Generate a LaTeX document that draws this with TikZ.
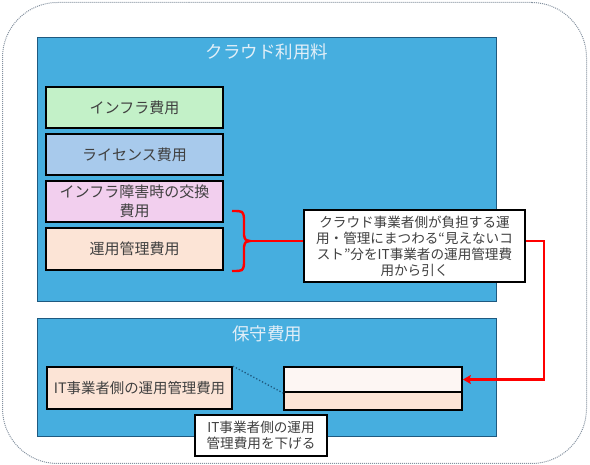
\documentclass[tikz,border=0pt]{standalone}
\usepackage{fontspec}
\setmainfont{Noto Sans CJK JP}
\usetikzlibrary{positioning, arrows.meta}
\definecolor{cloudblue}{HTML}{46AEDF}
\definecolor{areaborder}{HTML}{1F5A80}
\definecolor{titlewhite}{HTML}{E2EFF8}
\definecolor{textgray}{HTML}{404040}
\definecolor{framegray}{HTML}{8592A0}
\definecolor{infragreen}{HTML}{C3F1C8}
\definecolor{licenseblue}{HTML}{A8CAEC}
\definecolor{failpink}{HTML}{F2CFEE}
\definecolor{opspeach}{HTML}{FCE4D6}
\definecolor{paleblush}{HTML}{FDF6F3}
\begin{document}
\begin{tikzpicture}[
        x=1pt, y=-1pt,
        node distance=3.7pt,
        thick,
        >={Stealth[length=8pt, width=9pt, inset=1.5pt]},
        area/.style={draw=areaborder, line width=1.2pt, fill=cloudblue},
        areatitle/.style={text=titlewhite, font=\fontsize{17.5}{20}\selectfont},
        costbox/.style={draw=black, line width=1.8pt, text=textgray, minimum width=177pt,
            minimum height=41.5pt, inner sep=2pt, align=center, font=\fontsize{15}{19}\selectfont},
        notebox/.style={draw=black, line width=1.8pt, fill=white, text=textgray, inner sep=2pt,
            align=center, font=\fontsize{13.6}{16}\selectfont},
        redline/.style={draw=red, line width=2.4pt}
    ]
    \useasboundingbox (0,0) rectangle (590,465);

    % outer frame
    \node[draw=framegray, densely dotted, line width=1pt, rounded corners=55pt,
        minimum width=584pt, minimum height=461pt] (frame) at (294.5,233) {};

    % cloud fee area
    \node[area, minimum width=458.8pt, minimum height=263.8pt] (cloud) at (267,169.5) {};
    \node[areatitle] (cloudtitle) at (267,52) {クラウド利用料};
    \node[costbox, fill=infragreen] (infra) at (134.5,107.4) {インフラ費用};
    \node[costbox, fill=licenseblue, below=of infra] (license) {ライセンス費用};
    \node[costbox, fill=failpink, below=of license] (failure) {インフラ障害時の交換\\費用};
    \node[costbox, fill=opspeach, minimum height=42pt, below=of failure] (ops) {運用管理費用};

    % brace
    \draw[redline] (232,211) .. controls (243,211) .. (244,218) -- (244,235)
        .. controls (245,240) .. (250,241) .. controls (245,242) .. (244,247) -- (244,264)
        .. controls (243,271) .. (232,271);
    \coordinate (bracetip) at (250,241);

    \node[notebox, minimum width=221pt, minimum height=72pt] (note) at (414.5,246)
        {クラウド事業者側が負担する運\\用・管理にまつわる“見えないコ\\スト”分をIT事業者の運用管理費\\用から引く};

    % maintenance area
    \node[area, minimum width=458.8pt, minimum height=117.8pt] (upkeep) at (267,377.5) {};
    \node[areatitle] (upkeeptitle) at (267,334) {保守費用};
    \node[costbox, fill=opspeach, minimum width=185pt, minimum height=42pt,
        font=\fontsize{14.4}{17}\selectfont] (itops) at (139.5,388) {IT事業者側の運用管理費用};
    \node[draw=black, line width=1.8pt, fill=paleblush, minimum width=178pt,
        minimum height=25.2pt] (upper) at (373,379.5) {};
    \node[draw=black, line width=1.8pt, fill=opspeach, minimum width=178pt,
        minimum height=18pt, below=-1.8pt of upper] (lower) {};
    \draw[dotted, line width=1.3pt, areaborder] (itops.north east) -- (upper.south west);

    \node[notebox, minimum width=132pt, minimum height=41pt] (lowerlabel) at (261,435.5)
        {IT事業者側の運用\\管理費用を下げる};

    % red connectors
    \draw[redline] (bracetip) -- (bracetip -| note.west);
    \draw[redline, ->] (bracetip -| note.east) -- ++(18,0) |- (upper.east);

\end{tikzpicture}
\end{document}
